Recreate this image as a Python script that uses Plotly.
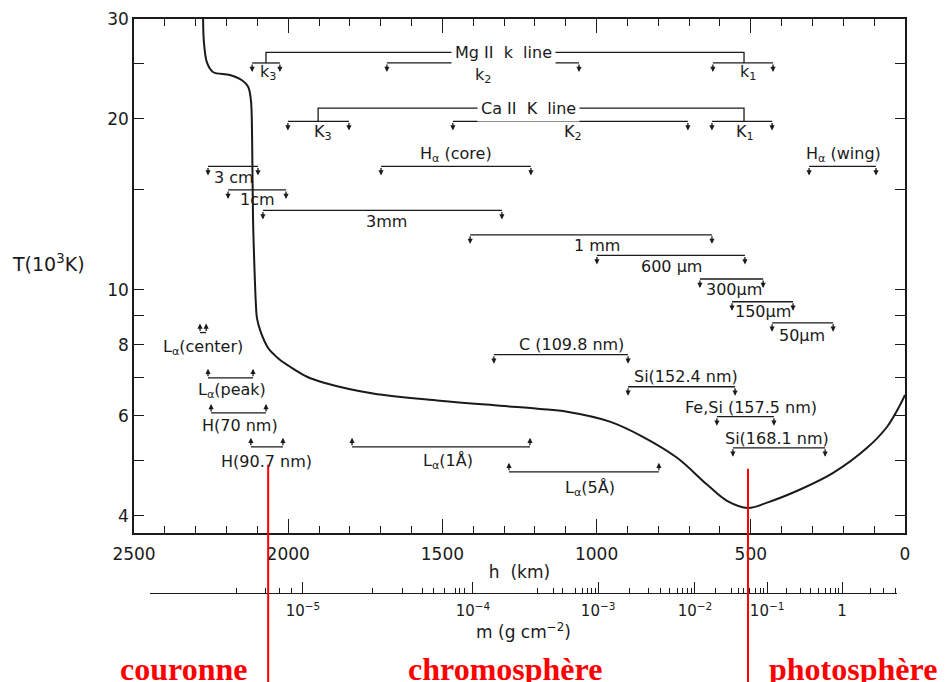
import numpy as np
import plotly.graph_objects as go

# temperature profile: height h (km), T (10^3 K)
curve_h = [2276, 2273, 2263, 2244, 2189, 2150, 2130, 2121, 2117, 2114, 2108, 2105,
           2101, 2088, 2065, 2049, 2027, 1994, 1939, 1887, 1725, 1508, 1313, 1184,
           1096, 957, 850, 739, 642, 577, 509, 447, 340, 233, 123, 58, 16, 0]
curve_T = [30.0, 27.2, 25.1, 24.2, 23.9, 23.4, 22.8, 21.6, 18.4, 13.3, 10.4, 9.49,
           8.9, 8.40, 7.90, 7.72, 7.53, 7.32, 7.03, 6.87, 6.57, 6.38, 6.25, 6.17,
           6.10, 5.86, 5.51, 5.06, 4.54, 4.25, 4.13, 4.22, 4.45, 4.76, 5.27, 5.74, 6.27, 6.53]

# formation brackets: text, ends (km), bar level (10^3 K), arrows (-1 down, +1 up), label spot
br_text = ['k<sub>3</sub>', 'k<sub>2</sub>', 'k<sub>1</sub>',
           'K<sub>3</sub>', 'K<sub>2</sub>', 'K<sub>1</sub>',
           'H<sub>α</sub> (core)', 'H<sub>α</sub> (wing)',
           '3 cm', '1cm', '3mm', '1 mm', '600 µm', '300µm', '150µm', '50µm',
           'C (109.8 nm)', 'Si(152.4 nm)', 'Fe,Si (157.5 nm)', 'Si(168.1 nm)',
           'L<sub>α</sub>(5Å)', 'L<sub>α</sub>(1Å)', 'H(90.7 nm)', 'H(70 nm)',
           'L<sub>α</sub>(peak)', 'L<sub>α</sub>(center)']
br_h1 = [2117, 1680, 623, 2001, 1466, 626, 1699, 311, 2260, 2195, 2082, 1410, 999,
         665, 561, 431, 1333, 898, 610, 558, 1284, 1793, 2121, 2250, 2260, 2286]
br_h2 = [2027, 1057, 428, 1803, 704, 431, 1213, 94, 2098, 2007, 1307, 626, 519,
         460, 363, 233, 898, 551, 425, 259, 798, 1216, 2017, 2072, 2114, 2266]
br_T = [25.1, 25.1, 25.1, 19.8, 19.8, 19.8, 16.5, 16.5, 16.5, 15.0, 13.8, 12.5, 11.5,
        10.45, 9.53, 8.75, 7.69, 6.75, 5.98, 5.27, 4.78, 5.29, 5.29, 6.07, 7.00, 8.41]
br_dir = [-1] * 20 + [1] * 6
br_lab_h = [2066, 1368, 509, 1887, 1077, 519, 1456, 201, 2176, 2101, 1680, 999, 756,
            554, 460, 334, 1080, 710, 499, 415, 1021, 1482, 2072, 2156, 2182, 2276]
br_lab_T = [24.1, 23.9, 24.1, 18.9, 18.9, 18.9, 17.3, 17.3, 15.8, 14.4, 13.2, 11.95, 10.98,
            10.0, 9.15, 8.30, 8.00, 7.03, 6.20, 5.47, 4.46, 4.98, 4.98, 5.76, 6.64, 7.90]

# Mg II and Ca II groups joined over their brackets
grp_text = ['Mg II  k  line', 'Ca II  K  line']
grp_h1 = [2072, 1903]
grp_h2 = [522, 522]
grp_top = [26.2, 20.9]
grp_bar = [25.1, 19.8]
grp_lab_h = [1303, 1222]

# axes
h_range = [2500, 0]
T_range = [3.73, 30]
T_ticks = [4, 5, 6, 7, 8, 9, 10, 15, 20, 25, 30]
T_labels = ['4', '', '6', '', '8', '', '10', '', '20', '', '30']

# column mass scale: heights of labelled decades and of minor marks
m_range = [2448, 26]
m_major_h = [1952, 1401, 995, 681, 447, 204]
m_major_text = ['10<sup>−5</sup>', '10<sup>−4</sup>', '10<sup>−3</sup>',
                '10<sup>−2</sup>', '10<sup>−1</sup>', '1']
m_minor_h = [2448, 2166, 2075, 2027, 1988,
             1728, 1628, 1566, 1530, 1492, 1459, 1443, 1427,
             1193, 1141, 1109, 1070, 1047, 1031, 1015, 1005,
             892, 833, 794, 762, 739, 720, 704, 691,
             616, 561, 541, 525, 503, 486, 470, 460,
             383, 340, 308, 282, 259, 243, 227, 217,
             113, 71, 32]

# atmosphere layers
zone_h = [2065, 509]
zone_top_T = [4.92, 4.84]
zone_text = ['couronne', 'chromosphère', 'photosphère']
zone_text_h = [2341, 1297, 169]

ink = '#1a1a1a'
y_dom = [0.1153, 1.0]


def t_to_paper(t):
    lo, hi = np.log10(T_range[0]), np.log10(T_range[1])
    return y_dom[0] + (np.log10(t) - lo) / (hi - lo) * (y_dom[1] - y_dom[0])


fig = go.Figure()

fig.add_trace(go.Scatter(x=curve_h, y=curve_T, mode='lines',
                         line=dict(color=ink, width=2, shape='spline', smoothing=1.0),
                         hoverinfo='skip'))

# bracket bars
bx, by = [], []
for h1, h2, t in zip(br_h1, br_h2, br_T):
    bx += [h1, h2, None]
    by += [t, t, None]
for h1, h2, top, bar in zip(grp_h1, grp_h2, grp_top, grp_bar):
    bx += [h1, h1, h2, h2, None]
    by += [bar, top, top, bar, None]
fig.add_trace(go.Scatter(x=bx, y=by, mode='lines', line=dict(color=ink, width=1.3),
                         hoverinfo='skip'))

# arrows at bracket ends
for h1, h2, t, d in zip(br_h1, br_h2, br_T, br_dir):
    for h in (h1, h2):
        fig.add_annotation(x=h, y=np.log10(t), text='', showarrow=True,
                           ax=0, ay=9 * d, yshift=9 * d,
                           arrowhead=2, arrowsize=0.8, arrowwidth=1.3, arrowcolor=ink)

for txt, h, t in zip(br_text, br_lab_h, br_lab_T):
    fig.add_annotation(x=h, y=np.log10(t), text=txt, showarrow=False,
                       font=dict(size=16, color=ink))

for txt, h, t in zip(grp_text, grp_lab_h, grp_top):
    fig.add_annotation(x=h, y=np.log10(t), text=txt, showarrow=False, bgcolor='white',
                       borderpad=3, font=dict(size=16, color=ink))

# dummy trace so the mass scale subplot exists
fig.add_trace(go.Scatter(x=[m_range[0]], y=[0], xaxis='x2', yaxis='y2', mode='markers',
                         marker=dict(opacity=0), hoverinfo='skip'))

# layer boundaries and names
for h, t in zip(zone_h, zone_top_T):
    fig.add_shape(type='line', xref='x', yref='paper', x0=h, x1=h,
                  y0=t_to_paper(t), y1=-0.2, line=dict(color='red', width=2))
for txt, h in zip(zone_text, zone_text_h):
    fig.add_annotation(x=h, xref='x', y=-0.153, yref='paper', yanchor='bottom',
                       text='<b>' + txt + '</b>', showarrow=False,
                       font=dict(family='Liberation Serif', size=32, color='red'))

fig.add_annotation(x=-0.161, xref='paper', xanchor='left', y=np.log10(11.15), yref='y',
                   text='T(10<sup>3</sup>K)', showarrow=False, font=dict(size=19, color=ink))

# the page puts the figure 8 px in from the top-left corner
fig.update_layout(
    width=943, height=674,
    margin=dict(l=126, r=46, t=11, b=82),
    paper_bgcolor='white', plot_bgcolor='white',
    showlegend=False,
    font=dict(family='DejaVu Sans', size=15, color=ink),
    xaxis=dict(range=h_range, domain=[0, 1], anchor='y', tick0=0, dtick=500,
               ticks='inside', ticklen=14, tickwidth=1.3, tickcolor=ink,
               minor=dict(dtick=100, ticks='inside', ticklen=7, tickwidth=1.3, tickcolor=ink),
               showline=True, linecolor=ink, linewidth=1.5, mirror='ticks',
               showgrid=False, zeroline=False, ticklabelstandoff=5, automargin=False,
               tickfont=dict(size=17),
               title=dict(text='h\u00a0\u00a0(km)', font=dict(size=17), standoff=3)),
    yaxis=dict(type='log', range=[np.log10(T_range[0]), np.log10(T_range[1])],
               domain=y_dom, anchor='x', tickmode='array', tickvals=T_ticks,
               ticktext=T_labels, ticks='inside', ticklen=10, tickwidth=1.3, tickcolor=ink,
               showline=True, linecolor=ink, linewidth=1.5, mirror='ticks',
               showgrid=False, zeroline=False, automargin=False, tickfont=dict(size=17)),
    xaxis2=dict(range=m_range, domain=[0.02075, 0.98962], anchor='y2',
                tickmode='array', tickvals=m_major_h, ticktext=m_major_text,
                ticks='inside', ticklen=11, tickwidth=1.2, tickcolor=ink,
                minor=dict(tickvals=m_minor_h, ticks='inside', ticklen=5,
                           tickwidth=1.2, tickcolor=ink),
                showline=True, linecolor=ink, linewidth=1.3, ticklabelstandoff=4,
                showgrid=False, zeroline=False, automargin=False, tickfont=dict(size=15),
                title=dict(text='m (g cm<sup>−2</sup>)', font=dict(size=17), standoff=1)),
    yaxis2=dict(domain=[0.01205, 0.05], range=[0, 1], visible=False, anchor='x2',
                automargin=False),
)

fig.write_html("out.html")
